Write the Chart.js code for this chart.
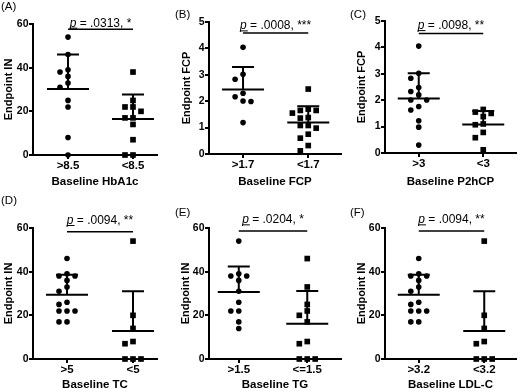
<!DOCTYPE html>
<html>
<head>
<meta charset="utf-8">
<script src="https://cdn.jsdelivr.net/npm/chart.js@4"></script>
<style>
  body { margin: 0; background: #fff; overflow: hidden; }
  #wrap { position: relative; width: 520px; height: 392px; }
  canvas { position: absolute; }
</style>
</head>
<body>
<div id="wrap"></div>
<script>
// 패널별 데이터
const panelTags = ["(A)", "(B)", "(C)", "(D)", "(E)", "(F)"];
const groupLabels = [
  [">8.5", "<8.5"], [">1.7", "<1.7"], [">3", "<3"],
  [">5", "<5"], [">1.5", "<=1.5"], [">3.2", "<3.2"],
];
const xTitles = ["Baseline HbA1c", "Baseline FCP", "Baseline P2hCP", "Baseline TC", "Baseline TG", "Baseline LDL-C"];
const yTitles = ["Endpoint IN", "Endpoint FCP", "Endpoint FCP", "Endpoint IN", "Endpoint IN", "Endpoint IN"];
const pTexts = [" = .0313, *", " = .0008, ***", " = .0098, **", " = .0094, **", " = .0204, *", " = .0094, **"];
const yMax = [60, 5, 5, 60, 60, 60];
const yStep = [20, 1, 1, 20, 20, 20];
const pBarY = [57.6, 4.58, 4.53, 58.3, 58.6, 58.6];

const aHigh = [54, 46, 39, 38, 36, 33, 31, 25, 22, 8, 0];
const aLow = [38, 25, 22, 22, 20, 17, 17, 14, 7, 0, 0];
const bHigh = [4.04, 3.02, 2.83, 2.3, 2.17, 2.01, 1.99, 1.19];
const bLow = [2.46, 1.7, 1.65, 1.65, 1.55, 1.38, 1.36, 1.08, 1.08, 0.98, 0.75, 0.6, 0.32, 0.12];
const cHigh = [4.05, 3.02, 2.83, 2.48, 2.33, 2.2, 2.01, 2.01, 1.76, 1.63, 1.22, 0.98, 0.3];
const cLow = [1.65, 1.55, 1.5, 1.38, 1.1, 1.07, 0.78, 0.58, 0.12];
const dHigh = [46, 39, 38, 38, 36, 33, 31, 26, 25, 22, 22, 22, 17, 17];
const dLow = [54, 20, 14, 8, 7, 0, 0, 0];
const eHigh = [54, 39, 38, 38, 36, 31, 26, 22, 22, 17, 14];
const eLow = [46, 33, 25, 22, 20, 17, 8, 7, 0, 0, 0];
const fHigh = [46, 39, 38, 38, 36, 33, 31, 26, 25, 22, 22, 22, 17, 17];
const fLow = [54, 20, 14, 8, 7, 0, 0, 0];

const highGroups = [aHigh, bHigh, cHigh, dHigh, eHigh, fHigh];
const lowGroups = [aLow, bLow, cLow, dLow, eLow, fLow];

// 레이아웃 (픽셀, 캔버스 기준)
const layouts = [
  { left: 0, top: 0, w: 170, h: 196, axisX: 33, plotTop: 24, plotBottom: 155, plotRight: 157, x1: 68, x2: 133, yTitleC: 8.5, xTitlePad: 7, tagX: 1, tagY: 7, pGap: 2.6 },
  { left: 170, top: 0, w: 175, h: 196, axisX: 39, plotTop: 22, plotBottom: 154, plotRight: 172, x1: 73.3, x2: 139, yTitleC: 17, xTitlePad: 7, tagX: 5, tagY: 15, pGap: 3.7 },
  { left: 345, top: 0, w: 175, h: 196, axisX: 40, plotTop: 21, plotBottom: 153, plotRight: 172, x1: 74, x2: 139, yTitleC: 17, xTitlePad: 7, tagX: 5, tagY: 15, pGap: 4.3 },
  { left: 0, top: 196, w: 170, h: 196, axisX: 33, plotTop: 32, plotBottom: 163, plotRight: 157, x1: 67, x2: 133, yTitleC: 8.5, xTitlePad: 0, tagX: 1, tagY: 5, pGap: 7.7 },
  { left: 170, top: 196, w: 175, h: 196, axisX: 39, plotTop: 32, plotBottom: 163, plotRight: 172, x1: 69, x2: 138, yTitleC: 16, xTitlePad: 0, tagX: 5, tagY: 17, pGap: 7.7 },
  { left: 345, top: 196, w: 175, h: 196, axisX: 40, plotTop: 32, plotBottom: 163, plotRight: 172, x1: 74, x2: 140, yTitleC: 17, xTitlePad: 0, tagX: 5, tagY: 17, pGap: 7.7 },
];

const FONT = "'Liberation Sans', Arial, Helvetica, sans-serif";

function mean(arr) {
  return arr.reduce((s, v) => s + v, 0) / arr.length;
}
function stdev(arr) {
  const m = mean(arr);
  return Math.sqrt(arr.reduce((s, v) => s + (v - m) * (v - m), 0) / (arr.length - 1));
}

// Prism 스타일로 겹치는 점을 옆으로 벌려 놓기
function spread(vals, center, stepU, pxPerY) {
  const placed = [];
  return vals.map((v) => {
    const yp = v * pxPerY;
    let col = 0;
    for (const k of [0, -1, 1, -2, 2, -3, 3]) {
      if (!placed.some((p) => p.k === k && Math.abs(p.yp - yp) < 6)) {
        col = k;
        break;
      }
    }
    placed.push({ k: col, yp: yp });
    return { x: center + col * stepU, y: v };
  });
}

const decoPlugin = {
  id: "deco",
  afterDatasetsDraw(chart, args, opts) {
    const { ctx } = chart;
    const xs = chart.scales.x;
    const ys = chart.scales.y;
    ctx.save();
    ctx.strokeStyle = "#000";
    ctx.lineWidth = 2;
    // 평균선 + 위쪽 SD
    opts.groups.forEach((vals, gi) => {
      const cx = xs.getPixelForValue(gi + 1);
      const m = mean(vals);
      const sd = stdev(vals);
      const ym = ys.getPixelForValue(m);
      const yu = ys.getPixelForValue(m + sd);
      ctx.beginPath();
      ctx.moveTo(cx - 21, ym);
      ctx.lineTo(cx + 21, ym);
      ctx.moveTo(cx, ym);
      ctx.lineTo(cx, yu);
      ctx.moveTo(cx - 11, yu);
      ctx.lineTo(cx + 11, yu);
      ctx.stroke();
    });
    ctx.restore();
  },
  afterDraw(chart, args, opts) {
    const { ctx } = chart;
    const xs = chart.scales.x;
    const ys = chart.scales.y;
    ctx.save();
    ctx.fillStyle = "#000";
    ctx.strokeStyle = "#000";
    // 패널 태그
    ctx.font = "11.5px " + FONT;
    ctx.textAlign = "left";
    ctx.textBaseline = "middle";
    ctx.fillText(opts.tag, opts.tagX, opts.tagY);
    // 유의성 막대
    const x1 = xs.getPixelForValue(1);
    const x2 = xs.getPixelForValue(2);
    const by = ys.getPixelForValue(opts.barY);
    ctx.lineWidth = 1.5;
    ctx.beginPath();
    ctx.moveTo(x1, by);
    ctx.lineTo(x2, by);
    ctx.stroke();
    ctx.textBaseline = "alphabetic";
    ctx.font = "italic 12px " + FONT;
    const pw = ctx.measureText("p").width;
    ctx.font = "12px " + FONT;
    const rw = ctx.measureText(opts.pText).width;
    const sx = (x1 + x2) / 2 - (pw + rw) / 2;
    const base = by - opts.gap;
    ctx.font = "italic 12px " + FONT;
    ctx.fillText("p", sx, base);
    ctx.font = "12px " + FONT;
    ctx.fillText(opts.pText, sx + pw, base);
    ctx.lineWidth = 1;
    ctx.beginPath();
    ctx.moveTo(sx, base + 1.5);
    ctx.lineTo(sx + pw + 1, base + 1.5);
    ctx.stroke();
    ctx.restore();
  },
};

const wrap = document.getElementById("wrap");

layouts.forEach((L, i) => {
  const canvas = document.createElement("canvas");
  canvas.width = L.w;
  canvas.height = L.h;
  canvas.style.left = L.left + "px";
  canvas.style.top = L.top + "px";
  wrap.appendChild(canvas);

  const pxu = L.x2 - L.x1;
  const xLo = 1 - (L.x1 - L.axisX) / pxu;
  const xHi = 2 + (L.plotRight - L.x2) / pxu;
  const pxPerY = (L.plotBottom - L.plotTop) / yMax[i];
  const stepU = 8 / pxu;
  const yTitleLine = 11 * 1.2;
  const padLeft = L.yTitleC - yTitleLine / 2;
  const yW = L.axisX - padLeft;
  const xH = L.h - L.plotBottom;

  new Chart(canvas, {
    type: "scatter",
    data: {
      datasets: [
        {
          data: spread(highGroups[i], 1, stepU, pxPerY),
          pointStyle: "circle",
          pointRadius: 2.8,
          pointHoverRadius: 2.8,
          backgroundColor: "#000",
          borderColor: "#000",
          borderWidth: 0,
          clip: false,
        },
        {
          data: spread(lowGroups[i], 2, stepU, pxPerY),
          pointStyle: "rect",
          pointRadius: 4,
          pointHoverRadius: 4,
          backgroundColor: "#000",
          borderColor: "#000",
          borderWidth: 0,
          clip: false,
        },
      ],
    },
    options: {
      responsive: false,
      animation: false,
      events: [],
      layout: { padding: { left: padLeft, top: L.plotTop, right: L.w - L.plotRight, bottom: 0 } },
      plugins: {
        legend: { display: false },
        tooltip: { enabled: false },
        deco: {
          groups: [highGroups[i], lowGroups[i]],
          tag: panelTags[i],
          tagX: L.tagX,
          tagY: L.tagY,
          barY: pBarY[i],
          pText: pTexts[i],
          gap: L.pGap,
        },
      },
      scales: {
        x: {
          type: "linear",
          min: xLo,
          max: xHi,
          afterFit: (s) => { s.height = xH; },
          afterBuildTicks: (s) => { s.ticks = [{ value: 1 }, { value: 2 }]; },
          ticks: {
            callback: (v, idx) => groupLabels[i][idx],
            font: { family: FONT, size: 11.5, weight: "bold" },
            color: "#000",
            padding: 0,
            maxRotation: 0,
            autoSkip: false,
          },
          grid: { drawOnChartArea: false, drawTicks: true, tickLength: 4, color: "#000", lineWidth: 2 },
          border: { color: "#000", width: 2 },
          title: {
            display: true,
            text: xTitles[i],
            font: { family: FONT, size: 11.5, weight: "bold" },
            color: "#000",
            padding: { top: 0, bottom: L.xTitlePad },
          },
        },
        y: {
          min: 0,
          max: yMax[i],
          afterFit: (s) => { s.width = yW; },
          ticks: {
            stepSize: yStep[i],
            font: { family: FONT, size: 10.5, weight: "bold" },
            color: "#000",
            padding: 0.5,
          },
          grid: { drawOnChartArea: false, drawTicks: true, tickLength: 4, color: "#000", lineWidth: 2 },
          border: { color: "#000", width: 2 },
          title: {
            display: true,
            text: yTitles[i],
            font: { family: FONT, size: 11, weight: "bold" },
            color: "#000",
            padding: { top: 0, bottom: 0 },
          },
        },
      },
    },
    plugins: [decoPlugin],
  });
});
</script>
</body>
</html>
